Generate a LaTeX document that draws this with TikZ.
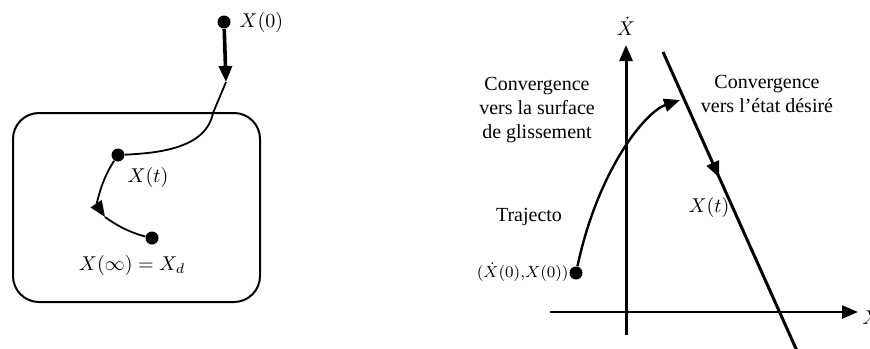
\documentclass[tikz,border=0pt]{standalone}
\usepackage{fontspec}
\setmainfont{Liberation Serif}
\usepackage{amsmath}
\usetikzlibrary{arrows.meta,decorations.markings}

\begin{document}
\begin{tikzpicture}[x=0.5pt,y=-0.5pt,>={Triangle[length=8pt,width=6.5pt]},
  dot/.style={circle,fill,inner sep=0pt,minimum size=6.5pt},
  lbl/.style={font=\fontsize{10}{12}\selectfont,inner sep=1pt},
  midarrow/.style={postaction={decorate},
    decoration={markings,mark=at position #1 with {\arrow{>}}}}]
  \useasboundingbox (0,0) rectangle (870,348);
  % left: state space
  \draw[line width=1pt,rounded corners=13pt] (13,113) rectangle (260,302);
  \node[dot] (x0) at (224,22) {};
  \node[lbl,anchor=west] (x0l) at (237,22) {$X(0)$};
  \coordinate (a0) at (226,82);
  \draw[line width=1.8pt,->] (x0) -- (a0);
  \node[dot] (xt) at (118,155) {};
  \node[lbl] (xtl) at (148,177) {$X(t)$};
  \draw[line width=0.9pt] (a0) -- (213,113) .. controls (206,148) and (160,153) .. (xt);
  \coordinate (a1) at (105,217);
  \draw[line width=0.9pt,->] (xt) .. controls (100,182) and (97,205) .. (a1);
  \node[dot] (xd) at (152,238) {};
  \draw[line width=0.9pt] (a1) .. controls (120,228) and (135,234) .. (xd);
  \node[lbl] (xdl) at (132,265) {$X(\infty)=X_d$};

  % right: phase plane
  \coordinate (ybot) at (626,335);
  \coordinate (ytop) at (626,45);
  \coordinate (xleft) at (550,312);
  \coordinate (xright) at (858,312);
  \draw[line width=1.5pt,->] (ybot) -- (ytop);
  \draw[line width=1.2pt,->] (xleft) -- (xright);
  \node[lbl] (yl) at (626,26) {$\dot X$};
  \node[lbl,anchor=west] (xl) at (860,318) {$X$};
  \coordinate (s1) at (663,52);
  \coordinate (s2) at (797,351);
  \draw[line width=1.5pt,midarrow=0.42] (s1) -- (s2);
  \node[dot] (p0) at (576,273) {};
  \coordinate (p1) at (680,100);
  \draw[line width=1.2pt,->] (p0) .. controls (598,170) and (645,112) .. (p1);
  \node[lbl,align=center] (conv1) at (537,110) {Convergence\\vers la surface\\de glissement};
  \node[lbl,align=center] (conv2) at (767,94) {Convergence\\vers l’état désiré};
  \node[lbl] (traj) at (529,217) {Trajecto};
  \node[lbl,anchor=east,font=\fontsize{8.5}{10}\selectfont] (p0l) at (571,272) {$(\dot X(0){,}X(0))$};
  \node[lbl] (xtr) at (709,207) {$X(t)$};
\end{tikzpicture}
\end{document}
